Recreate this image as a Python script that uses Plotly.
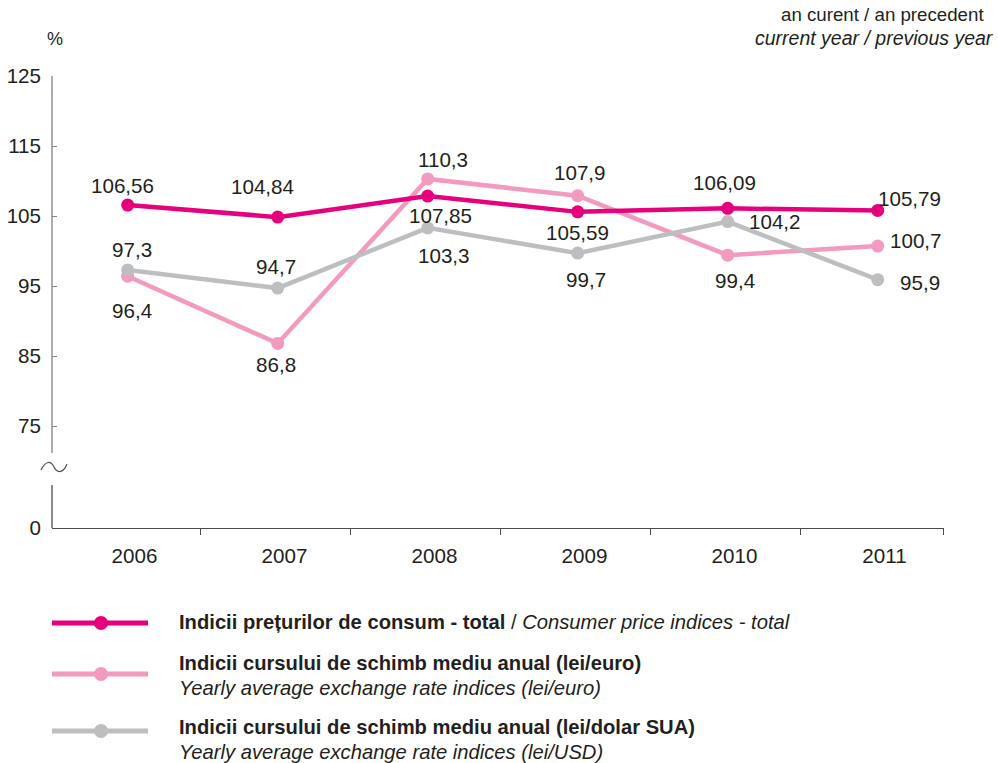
import plotly.graph_objects as go

# ---- data -------------------------------------------------------------
years = ["2006", "2007", "2008", "2009", "2010", "2011"]
cpi_total = [106.56, 104.84, 107.85, 105.59, 106.09, 105.79]
eur_rate = [96.4, 86.8, 110.3, 107.9, 99.4, 100.7]
usd_rate = [97.3, 94.7, 103.3, 99.7, 104.2, 95.9]
y_tick_labels = [0, 75, 85, 95, 105, 115, 125]

# ---- layout geometry (pixels) ------------------------------------------
W, H = 998, 763
PL, PR, PT, PB = 52, 944, 76, 528          # plot area edges
X_LO, X_HI = -0.5047, 5.442                # category index range
Y_HI = 125
PX_PER_UNIT = 7.0                          # 10 units = 70 px in the upper band
Y_LO = Y_HI - (PB - PT) / PX_PER_UNIT      # value shown as "0" after the axis break

FONT = "Liberation Sans, Arial, Helvetica, sans-serif"
TXT = "#231f20"
C_CPI = "#e6007e"
C_EUR = "#f49ac1"
C_USD = "#bcbec0"
LABEL_SIZE = 20.6
LEGEND_SIZE = 20.2


def px(x):
    return (x - PL) / (PR - PL)


def py(y):
    return (PB - y) / (PB - PT)


def fmt(v):
    return str(v).replace(".", ",")


xs = list(range(len(years)))

fig = go.Figure()
for vals, col in ((eur_rate, C_EUR), (usd_rate, C_USD), (cpi_total, C_CPI)):
    fig.add_trace(go.Scatter(
        x=xs, y=vals, mode="lines+markers",
        line=dict(color=col, width=4.5),
        marker=dict(color=col, size=13),
        showlegend=False, hoverinfo="skip", cliponaxis=False,
    ))

# value labels: pixel offsets of each label centre from its point
offsets = {
    "cpi": [(-5, -20), (-15, -31), (13, 19), (0, 21), (-3, -26), (32, -12)],
    "eur": [(4, 34), (-2, 21), (15, -19), (2, -23), (7, 25), (38, -6)],
    "usd": [(4, -20), (-2, -22), (16, 28), (8, 26), (47, 0), (42, 3)],
}
annotations = []
for key, vals in (("cpi", cpi_total), ("eur", eur_rate), ("usd", usd_rate)):
    for i, v in enumerate(vals):
        dx, dy = offsets[key][i]
        annotations.append(dict(
            x=i, y=v, xref="x", yref="y", text=fmt(v), showarrow=False,
            xshift=dx, yshift=-dy, xanchor="center", yanchor="middle",
            font=dict(family=FONT, size=LABEL_SIZE, color=TXT),
        ))

# unit and header texts
annotations += [
    dict(x=px(54.5), y=py(39), xref="paper", yref="paper", text="%",
         showarrow=False, xanchor="center", yanchor="middle",
         font=dict(family=FONT, size=18, color=TXT)),
    dict(x=px(986), y=py(15), xref="paper", yref="paper",
         text="an curent / an precedent", showarrow=False,
         xanchor="right", yanchor="middle",
         font=dict(family=FONT, size=18.7, color=TXT)),
    dict(x=px(996), y=py(38), xref="paper", yref="paper",
         text="<i>current year / previous year</i>", showarrow=False,
         xanchor="right", yanchor="middle",
         font=dict(family=FONT, size=19.5, color=TXT)),
]

# custom legend
legend_rows = [
    (C_CPI, 623, [(622, "<b>Indicii prețurilor de consum - total</b> / <i>Consumer price indices - total</i>")]),
    (C_EUR, 674, [(663, "<b>Indicii cursului de schimb mediu anual (lei/euro)</b>"),
                  (688, "<i>Yearly average exchange rate indices (lei/euro)</i>")]),
    (C_USD, 731, [(727, "<b>Indicii cursului de schimb mediu anual (lei/dolar SUA)</b>"),
                  (752, "<i>Yearly average exchange rate indices (lei/USD)</i>")]),
]
shapes = []
for col, ly, texts in legend_rows:
    shapes.append(dict(type="line", xref="paper", yref="paper",
                       x0=px(52), x1=px(148), y0=py(ly), y1=py(ly),
                       line=dict(color=col, width=5)))
    r = 7
    shapes.append(dict(type="circle", xref="paper", yref="paper",
                       x0=px(101 - r), x1=px(101 + r), y0=py(ly + r), y1=py(ly - r),
                       fillcolor=col, line=dict(color=col, width=0)))
    for ty, t in texts:
        annotations.append(dict(
            x=px(177), y=py(ty), xref="paper", yref="paper", text=t,
            showarrow=False, xanchor="left", yanchor="middle",
            font=dict(family=FONT, size=LEGEND_SIZE, color=TXT)))

# broken vertical axis line and break mark
shapes += [
    dict(type="line", xref="paper", yref="paper", x0=0, x1=0,
         y0=py(PT), y1=py(453), line=dict(color="#808285", width=1.3)),
    dict(type="line", xref="paper", yref="paper", x0=0, x1=0,
         y0=py(485), y1=py(PB), line=dict(color="#4d4d4d", width=1.3)),
]
pts = [(41, 470), (46, 460), (51, 461), (54, 467), (57, 473), (63, 474), (67, 464)]
p = [(px(a), py(b)) for a, b in pts]
path = (f"M {p[0][0]},{p[0][1]} C {p[1][0]},{p[1][1]} {p[2][0]},{p[2][1]} {p[3][0]},{p[3][1]} "
        f"C {p[4][0]},{p[4][1]} {p[5][0]},{p[5][1]} {p[6][0]},{p[6][1]}")
shapes.append(dict(type="path", xref="paper", yref="paper", path=path,
                   line=dict(color="#4d4d4d", width=1.2)))

y_tickvals = [Y_LO if t == 0 else t for t in y_tick_labels]

fig.update_layout(
    width=W, height=H,
    margin=dict(l=PL, r=W - PR, t=PT, b=H - PB, pad=0, autoexpand=False),
    paper_bgcolor="white", plot_bgcolor="white",
    font=dict(family=FONT, size=20, color=TXT),
    xaxis=dict(
        range=[X_LO, X_HI], showgrid=False, zeroline=False, automargin=False,
        tickmode="array", tickvals=[i + 0.045 for i in xs], ticktext=years,
        ticks="", showline=True, linecolor="#4d4d4d", linewidth=1.3,
        ticklabelstandoff=9,
        tickfont=dict(family=FONT, size=LABEL_SIZE, color=TXT),
        minor=dict(tickmode="array",
                   tickvals=[i + 0.488 for i in xs[:-1]] + [X_HI - 0.002],
                   ticks="outside", ticklen=6, tickwidth=1.2, tickcolor="#4d4d4d"),
    ),
    yaxis=dict(
        range=[Y_LO, Y_HI], showgrid=False, zeroline=False, showline=False,
        automargin=False,
        tickmode="array", tickvals=y_tickvals,
        ticktext=[str(t) for t in y_tick_labels],
        ticks="inside", ticklen=5, tickwidth=1.2, tickcolor="#808285",
        ticklabelstandoff=10,
        tickfont=dict(family=FONT, size=LABEL_SIZE, color=TXT),
    ),
    shapes=shapes,
    annotations=annotations,
)

fig.write_html("out.html")
